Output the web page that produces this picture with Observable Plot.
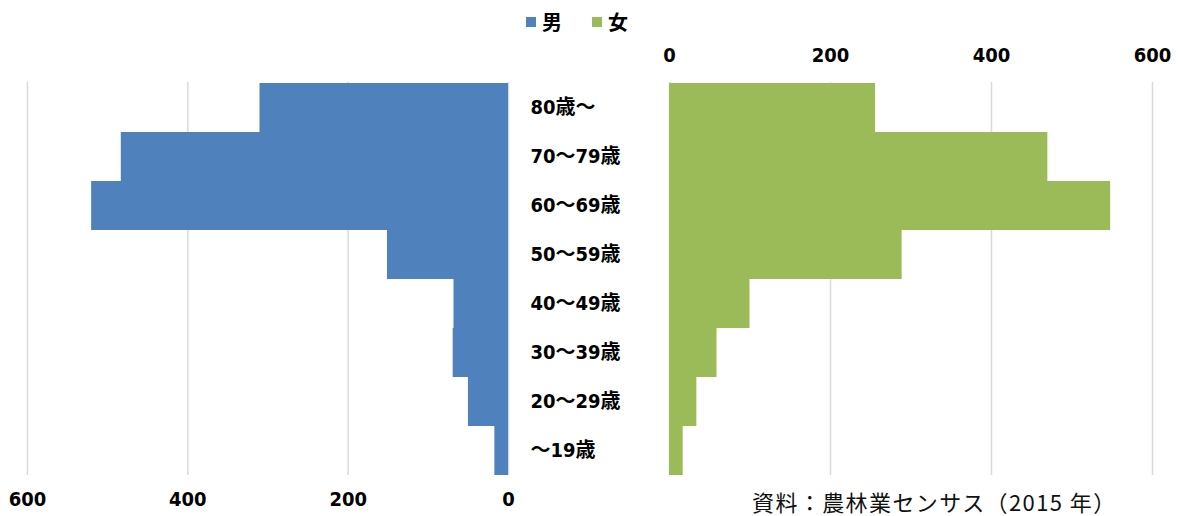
<!DOCTYPE html>
<html><head><meta charset="utf-8">
<script src="https://cdn.jsdelivr.net/npm/d3@7"></script>
<script src="https://cdn.jsdelivr.net/npm/@observablehq/plot@0.6"></script>
<style>
html,body{margin:0;padding:0;background:#fff;}
#wrap{position:relative;width:1181px;height:516px;overflow:hidden;}
#wrap svg{position:absolute;left:0;top:0;}
#legend{position:absolute;top:7px;left:526px;display:flex;align-items:center;font-weight:bold;font-size:20px;font-family:"Noto Sans CJK JP",sans-serif;}
.sw{display:inline-block;width:10px;height:10px;margin-right:6px;}
.item{display:flex;align-items:center;margin-right:30px;}
#caption{position:absolute;left:752px;top:485px;font-size:22px;font-family:"Noto Sans CJK JP",sans-serif;letter-spacing:1.4px;color:#111;white-space:nowrap;}
</style></head>
<body><div id="wrap"><div id="legend"></div><div id="caption"></div></div>
<script>
const categories = ["80歳〜","70〜79歳","60〜69歳","50〜59歳","40〜49歳","30〜39歳","20〜29歳","〜19歳"];
const male   = [310, 483, 520, 151, 68, 69, 50, 17];
const female = [256, 470, 548, 289, 100, 59, 34, 17];
const ticks = [0, 200, 400, 600];
const seriesNames = ["男", "女"];
const seriesColors = ["#4F81BD", "#9BBB59"];
const captionText = "資料：農林業センサス（2015 年）";

const maleData = categories.map((c, i) => ({age: c, value: male[i]}));
const femaleData = categories.map((c, i) => ({age: c, value: female[i]}));

const W = 1181, H = 516;
const font = "'DejaVu Sans Condensed','Noto Sans CJK JP',sans-serif";

const left = Plot.plot({
  width: 540, height: H,
  marginLeft: 27, marginRight: 32, marginTop: 82, marginBottom: 41,
  style: {fontFamily: font, fontSize: "20px", fontWeight: "bold", color: "#000", background: "transparent", fontStretch: "condensed"},
  x: {domain: [0, 600], reverse: true, label: null},
  y: {domain: categories, paddingInner: 0, paddingOuter: 0, label: null},
  marks: [
    Plot.ruleX(ticks, {stroke: "#d9d9d9", strokeWidth: 1.5}),
    Plot.barX(maleData, {x: "value", y: "age", fill: seriesColors[0]}),
    Plot.axisX({anchor: "bottom", ticks: ticks, tickSize: 0, tickPadding: 16, tickFormat: d => String(d), fontSize: 20, fontWeight: "bold", label: null}),
    Plot.axisY({ticks: [], tickSize: 0, label: null})
  ]
});

const right = Plot.plot({
  width: W, height: H,
  marginLeft: 669, marginRight: 29, marginTop: 82, marginBottom: 41,
  style: {fontFamily: font, fontSize: "20px", fontWeight: "bold", color: "#000", background: "transparent", fontStretch: "condensed"},
  x: {domain: [0, 600], label: null},
  y: {domain: categories, paddingInner: 0, paddingOuter: 0, label: null},
  marks: [
    Plot.ruleX(ticks, {stroke: "#d9d9d9", strokeWidth: 1.5}),
    Plot.barX(femaleData, {x: "value", y: "age", fill: seriesColors[1]}),
    Plot.axisX({anchor: "top", ticks: ticks, tickSize: 0, tickPadding: 21, tickFormat: d => String(d), fontSize: 20, fontWeight: "bold", label: null}),
    Plot.axisY({anchor: "left", tickSize: 0, tickPadding: 139, textAnchor: "start", fontSize: 20, fontWeight: "bold", label: null})
  ]
});

const wrap = document.getElementById("wrap");
wrap.insertBefore(left, wrap.firstChild);
wrap.insertBefore(right, wrap.firstChild);

const legend = document.getElementById("legend");
seriesNames.forEach((n, i) => {
  const it = document.createElement("span");
  it.className = "item";
  const sw = document.createElement("span");
  sw.className = "sw"; sw.style.background = seriesColors[i];
  it.appendChild(sw);
  it.appendChild(document.createTextNode(n));
  legend.appendChild(it);
});
document.getElementById("caption").textContent = captionText;
</script>
</body></html>
